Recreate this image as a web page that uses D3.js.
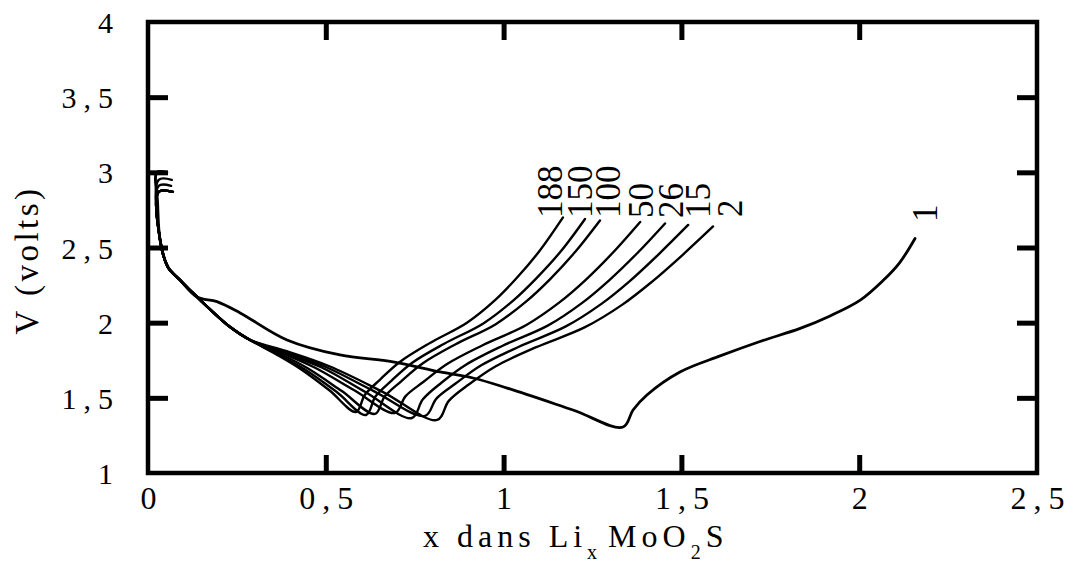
<!DOCTYPE html>
<html>
<head>
<meta charset="utf-8">
<script src="https://cdn.jsdelivr.net/npm/d3@7"></script>
<style>
  html, body { margin: 0; padding: 0; background: #fff; }
  svg { display: block; }
  text { font-family: "Liberation Serif", "Times New Roman", serif; fill: #000; }
</style>
</head>
<body>
<svg id="chart" width="1077" height="571"></svg>
<script>
// Axis ticks and their labels (French decimal comma)
const xTicks = [0, 0.5, 1, 1.5, 2, 2.5];
const xTickLabels = ["0", "0,5", "1", "1,5", "2", "2,5"];
const yTicks = [1, 1.5, 2, 2.5, 3, 3.5, 4];
const yTickLabels = ["1", "1,5", "2", "2,5", "3", "3,5", "4"];

// Cycle numbers written next to each curve
const cycleNames = ["1", "2", "15", "26", "50", "100", "150", "188"];

// Cycle 1: first discharge then charge  [x in LixMoO2S, V]
const cycle1 = [
  [0.053, 3.00], [0.025, 3.00], [0.027, 2.80], [0.034, 2.55], [0.056, 2.37],
  [0.090, 2.284], [0.138, 2.171], [0.194, 2.14], [0.259, 2.065], [0.391, 1.885],
  [0.540, 1.785], [0.689, 1.739], [0.821, 1.672], [0.914, 1.632], [1.010, 1.565],
  [1.195, 1.419], [1.336, 1.306],
  [1.364, 1.419], [1.403, 1.519], [1.496, 1.672], [1.609, 1.779], [1.721, 1.875],
  [1.834, 1.962], [1.918, 2.045], [2.003, 2.150], [2.067, 2.280], [2.114, 2.400],
  [2.157, 2.560]
];

// Open-circuit start of the later cycles
const start2 = [[0.067, 2.95], [0.030, 2.95]];
const start15 = [[0.065, 2.91], [0.030, 2.91]];
const startOther = [[0.070, 2.87], [0.030, 2.87]];

// Discharge shared by cycles 2 to 188
const dischargeCommon = [
  [0.034, 2.55], [0.056, 2.37], [0.090, 2.284], [0.138, 2.171],
  [0.231, 1.971], [0.287, 1.885]
];

// End of discharge + charge for each later cycle
const cycle2 = [
  [0.39, 1.81], [0.51, 1.71], [0.66, 1.54], [0.813, 1.353],
  [0.846, 1.48], [0.903, 1.59], [0.978, 1.71], [1.090, 1.835], [1.229, 1.97],
  [1.334, 2.12], [1.416, 2.27], [1.503, 2.45], [1.589, 2.64]
];
const cycle15 = [
  [0.385, 1.805], [0.50, 1.705], [0.635, 1.545], [0.779, 1.38],
  [0.811, 1.495], [0.865, 1.595], [0.936, 1.715], [1.043, 1.84], [1.175, 1.975],
  [1.275, 2.125], [1.354, 2.275], [1.436, 2.455], [1.519, 2.65]
];
const cycle26 = [
  [0.38, 1.80], [0.49, 1.70], [0.61, 1.54], [0.742, 1.366],
  [0.773, 1.49], [0.825, 1.60], [0.894, 1.72], [0.996, 1.845], [1.124, 1.98],
  [1.220, 2.13], [1.296, 2.28], [1.375, 2.46], [1.454, 2.66]
];
const cycle50 = [
  [0.375, 1.80], [0.47, 1.70], [0.58, 1.55], [0.695, 1.40],
  [0.724, 1.51], [0.774, 1.605], [0.841, 1.725], [0.941, 1.85], [1.064, 1.985],
  [1.157, 2.135], [1.231, 2.285], [1.307, 2.465], [1.384, 2.67]
];
const cycle100 = [
  [0.37, 1.795], [0.45, 1.695], [0.545, 1.545], [0.638, 1.393],
  [0.666, 1.51], [0.712, 1.61], [0.773, 1.73], [0.864, 1.855], [0.978, 1.99],
  [1.063, 2.14], [1.131, 2.29], [1.201, 2.47], [1.271, 2.68]
];
const cycle150 = [
  [0.365, 1.79], [0.44, 1.69], [0.53, 1.54], [0.613, 1.386],
  [0.640, 1.51], [0.685, 1.615], [0.744, 1.735], [0.833, 1.86], [0.943, 1.995],
  [1.026, 2.145], [1.092, 2.295], [1.161, 2.475], [1.229, 2.69]
];
const cycle188 = [
  [0.36, 1.79], [0.43, 1.69], [0.51, 1.55], [0.585, 1.406],
  [0.610, 1.52], [0.652, 1.62], [0.709, 1.74], [0.793, 1.865], [0.897, 2.0],
  [0.976, 2.15], [1.038, 2.30], [1.102, 2.48], [1.167, 2.70]
];

// ---- assemble curves ----
const curves = [
  { name: "1", pts: cycle1 },
  { name: "2", pts: start2.concat(dischargeCommon, cycle2) },
  { name: "15", pts: start15.concat(dischargeCommon, cycle15) },
  { name: "26", pts: startOther.concat(dischargeCommon, cycle26) },
  { name: "50", pts: startOther.concat(dischargeCommon, cycle50) },
  { name: "100", pts: startOther.concat(dischargeCommon, cycle100) },
  { name: "150", pts: startOther.concat(dischargeCommon, cycle150) },
  { name: "188", pts: startOther.concat(dischargeCommon, cycle188) }
];

// ---- layout ----
const plot = { left: 148, right: 1037, top: 22, bottom: 473 };
const svg = d3.select("#chart");

const x = d3.scaleLinear().domain([0, 2.5]).range([plot.left, plot.right]);
const y = d3.scaleLinear().domain([1, 4]).range([plot.bottom, plot.top]);

const inner = xTicks.filter(t => t > 0 && t < 2.5);
const innerY = yTicks.filter(t => t > 1 && t < 4);

// inward tick marks on all four sides
const tickStyle = g => {
  g.select(".domain").remove();
  g.selectAll(".tick line").attr("stroke", "#000").attr("stroke-width", 5);
  g.selectAll(".tick text").remove();
};
svg.append("g").attr("transform", `translate(0,${plot.bottom})`)
  .call(d3.axisBottom(x).tickValues(inner).tickSizeInner(-18).tickFormat(""))
  .call(tickStyle);
svg.append("g").attr("transform", `translate(0,${plot.top})`)
  .call(d3.axisTop(x).tickValues(inner).tickSizeInner(-18).tickFormat(""))
  .call(tickStyle);
svg.append("g").attr("transform", `translate(${plot.left},0)`)
  .call(d3.axisLeft(y).tickValues(innerY).tickSizeInner(-20).tickFormat(""))
  .call(tickStyle);
svg.append("g").attr("transform", `translate(${plot.right},0)`)
  .call(d3.axisRight(y).tickValues(innerY).tickSizeInner(-20).tickFormat(""))
  .call(tickStyle);

// frame
svg.append("rect")
  .attr("x", plot.left).attr("y", plot.top)
  .attr("width", plot.right - plot.left).attr("height", plot.bottom - plot.top)
  .attr("fill", "none").attr("stroke", "#000").attr("stroke-width", 4.5);

// tick labels
const ls = 7;
const xLab = svg.append("g").attr("transform", `translate(0,${plot.bottom})`)
  .call(d3.axisBottom(x).tickValues(xTicks).tickSize(0).tickPadding(0)
    .tickFormat((d, i) => xTickLabels[i]));
xLab.select(".domain").remove();
xLab.selectAll(".tick text")
  .attr("font-family", "Liberation Serif, serif")
  .attr("font-size", 32)
  .attr("letter-spacing", ls)
  .attr("dx", ls / 2)
  .attr("y", 36)
  .attr("dy", 0)
  .attr("fill", "#000");

const yLab = svg.append("g").attr("transform", `translate(${plot.left},0)`)
  .call(d3.axisLeft(y).tickValues(yTicks).tickSize(0).tickPadding(0)
    .tickFormat((d, i) => yTickLabels[i]));
yLab.select(".domain").remove();
yLab.selectAll(".tick text")
  .attr("font-family", "Liberation Serif, serif")
  .attr("font-size", 30)
  .attr("letter-spacing", ls)
  .attr("x", -35 + ls)
  .attr("dy", "0.35em")
  .attr("fill", "#000");

// curves
const line = d3.line()
  .x(d => x(d[0]))
  .y(d => y(d[1]))
  .curve(d3.curveCatmullRom.alpha(0.5));

svg.append("g").selectAll("path")
  .data(curves)
  .join("path")
  .attr("d", d => line(d.pts))
  .attr("fill", "none")
  .attr("stroke", "#000")
  .attr("stroke-width", d => d.name === "1" ? 2.8 : 2.4)
  .attr("stroke-linejoin", "round")
  .attr("stroke-linecap", "round");

// cycle-number labels, written vertically above the end of each charge
const labelLayout = {
  "1": [22, 222], "2": [29, 217], "15": [22, 218], "26": [18, 218],
  "50": [13, 218], "100": [20, 218], "150": [7, 218], "188": [-1, 218]
};
svg.append("g").selectAll("text")
  .data(curves)
  .join("text")
  .attr("transform", d => {
    const end = d.pts[d.pts.length - 1];
    const lay = labelLayout[d.name];
    return `translate(${x(end[0]) + lay[0]},${lay[1]}) rotate(-90)`;
  })
  .attr("font-size", 35)
  .attr("text-anchor", "start")
  .text(d => d.name);

// axis titles
const xt = svg.append("text")
  .attr("x", 423).attr("y", 547)
  .attr("font-size", 32)
  .attr("letter-spacing", 5);
xt.append("tspan").text("x dans Li");
xt.append("tspan").attr("font-size", 20).attr("dy", 12).text("x");
xt.append("tspan").attr("dy", -12).attr("dx", 6).text("MoO");
xt.append("tspan").attr("font-size", 20).attr("dy", 12).text("2");
xt.append("tspan").attr("dy", -12).text("S");

svg.append("text")
  .attr("transform", "translate(38,260) rotate(-90)")
  .attr("text-anchor", "middle")
  .attr("font-size", 33)
  .attr("letter-spacing", 3.5)
  .text("V (volts)");
</script>
</body>
</html>
